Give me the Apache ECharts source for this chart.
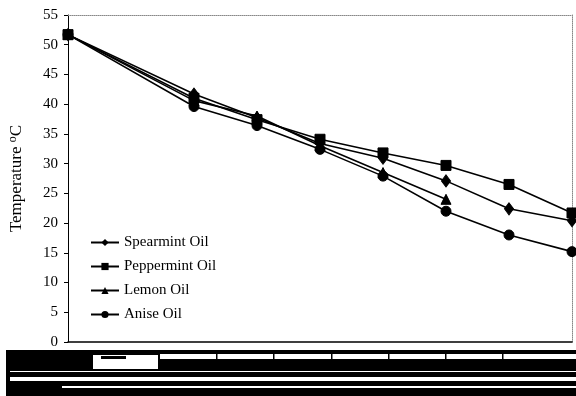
<!DOCTYPE html>
<html>
<head>
<meta charset="utf-8">
<script src="https://cdn.jsdelivr.net/npm/echarts@6/dist/echarts.min.js"></script>
<style>
  html, body { margin: 0; padding: 0; background: #fff; }
  #chart { width: 576px; height: 396px; }
</style>
</head>
<body>
<div id="chart"></div>
<script>
// Sampling positions along the x axis
const timePoints = [0, 2, 3, 4, 5, 6, 7, 8];

// Temperature readings (°C) for each oil
const spearmint  = [51.7, 41.7, 37.7, 33.4, 30.9, 27.1, 22.4, 20.4];
const peppermint = [51.7, 41.0, 37.4, 34.1, 31.8, 29.7, 26.5, 21.7];
const lemon      = [51.7, 40.6, 38.0, 33.0, 28.5, 24.0];
const anise      = [51.7, 39.6, 36.4, 32.4, 27.9, 22.0, 18.0, 15.2];

// Y axis range and step
const yMin = 0, yMax = 55, yStep = 5;

const seriesDefs = [
  { name: 'Spearmint Oil',  values: spearmint,  symbol: 'diamond',  size: [9, 12] },
  { name: 'Peppermint Oil', values: peppermint, symbol: 'rect',     size: 10 },
  { name: 'Lemon Oil',      values: lemon,      symbol: 'triangle', size: 10 },
  { name: 'Anise Oil',      values: anise,      symbol: 'circle',   size: 10 }
];

const font = 'Liberation Serif, Times New Roman, serif';
const chart = echarts.init(document.getElementById('chart'), null, { renderer: 'canvas' });

// Dark banding beneath the horizontal axis
const band = [
  { type: 'rect', shape: { x: 6, y: 350, width: 570, height: 46 }, style: { fill: '#000' } },
  { type: 'rect', shape: { x: 93, y: 355, width: 65, height: 14 }, style: { fill: '#fff' } },
  { type: 'rect', shape: { x: 101, y: 356, width: 25, height: 3 }, style: { fill: '#000' } },
  { type: 'rect', shape: { x: 160, y: 354, width: 416, height: 5 }, style: { fill: '#fff' } },
  { type: 'rect', shape: { x: 10, y: 377, width: 566, height: 4 }, style: { fill: '#fff' } },
  { type: 'rect', shape: { x: 62, y: 386, width: 514, height: 2 }, style: { fill: '#fff' } },
  { type: 'rect', shape: { x: 10, y: 371, width: 566, height: 1 }, style: { fill: '#fff' } }
];
[216, 273, 331, 388, 445, 502].forEach(function (x) {
  band.push({ type: 'rect', shape: { x: x, y: 354, width: 1.5, height: 5 }, style: { fill: '#000' } });
});

chart.setOption({
  animation: false,
  backgroundColor: '#fff',
  grid: { left: 68, right: 4, top: 15, bottom: 54, containLabel: false, outerBoundsMode: 'none' },
  legend: {
    orient: 'vertical',
    left: 85,
    top: 230,
    itemWidth: 28,
    itemHeight: 9,
    itemGap: 9,
    textStyle: { fontFamily: font, fontSize: 15, color: '#000' },
    data: seriesDefs.map(function (s) { return s.name; })
  },
  xAxis: [
    {
      type: 'value', min: 0, max: 8, interval: 1,
      axisLine: { show: true, onZero: false, lineStyle: { color: '#000', width: 1.5 } },
      axisTick: { show: false },
      axisLabel: { show: false },
      splitLine: { show: false }
    },
    {
      type: 'value', min: 0, max: 8, position: 'top',
      axisLine: { show: true, onZero: false, lineStyle: { color: '#888', width: 1, type: 'dotted' } },
      axisTick: { show: false }, axisLabel: { show: false }, splitLine: { show: false }
    }
  ],
  yAxis: [
    {
      type: 'value', min: yMin, max: yMax, interval: yStep,
      name: 'Temperature {s|o}C',
      nameLocation: 'middle',
      nameGap: 41,
      nameRotate: 90,
      nameTextStyle: {
        fontFamily: font, fontSize: 17, color: '#000',
        rich: { s: { fontFamily: font, fontSize: 12, verticalAlign: 'top', padding: [0, 0, 8, 0] } }
      },
      axisLine: { show: true, onZero: false, lineStyle: { color: '#000', width: 1 } },
      axisTick: { show: true, length: 4, lineStyle: { color: '#000' } },
      axisLabel: { fontFamily: font, fontSize: 15, color: '#000', margin: 10 },
      splitLine: { show: false }
    },
    {
      type: 'value', min: yMin, max: yMax, position: 'right',
      axisLine: { show: true, onZero: false, lineStyle: { color: '#888', width: 1, type: 'dotted' } },
      axisTick: { show: false }, axisLabel: { show: false }, splitLine: { show: false }
    }
  ],
  series: seriesDefs.map(function (s) {
    return {
      name: s.name,
      type: 'line',
      data: s.values.map(function (v, i) { return [timePoints[i], v]; }),
      symbol: s.symbol,
      symbolSize: s.size,
      showAllSymbol: true,
      clip: false,
      lineStyle: { color: '#000', width: 1.6 },
      itemStyle: { color: '#000', borderColor: '#000' },
      z: 3
    };
  }),
  graphic: band
});
</script>
</body>
</html>
